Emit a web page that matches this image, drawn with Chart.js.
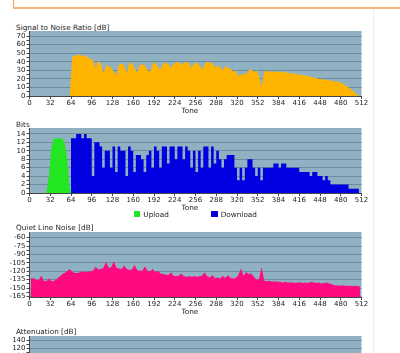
<!DOCTYPE html>
<html lang="en">
<head>
  <meta charset="UTF-8" />
  <title>ADSL Line Statistics</title>
  <script src="https://cdn.jsdelivr.net/npm/chart.js@4.4.1/dist/chart.umd.min.js"></script>
  <style>
    html, body { margin: 0; padding: 0; background: #fff; }
    body { position: relative; width: 400px; height: 353px; overflow: hidden;
           font-family: "DejaVu Sans", Verdana, sans-serif; color: #222; }
    .topbox { position: absolute; left: 13px; top: -1px; width: 420px; height: 7px;
              border-left: 1px solid #f0a050; border-top: 1px solid #f0a050;
              border-bottom: 2px solid #f4b47a; background: #fffdf6; }
    .rule { position: absolute; left: 373px; top: 10px; width: 1px; height: 343px; background: #ececec; }
    .lbl { position: absolute; font-size: 7.3px; line-height: 9px; white-space: nowrap; }
    .box { position: absolute; width: 6.5px; height: 6.5px; }
    canvas { position: absolute; left: 0; }
  </style>
</head>
<body>
  <div class="topbox"></div>
  <div class="rule"></div>

  <div class="lbl" style="left:16px; top:22.5px">Signal to Noise Ratio [dB]</div>
  <canvas id="snrChart" width="400" height="100" style="top:20px"></canvas>
  <div class="lbl" style="left:181.5px; top:105.8px">Tone</div>

  <div class="lbl" style="left:16px; top:119.5px">Bits</div>
  <canvas id="bitsChart" width="400" height="100" style="top:117px"></canvas>
  <div class="lbl" style="left:181.5px; top:203px">Tone</div>
  <div class="box" style="left:133.5px; top:210.5px; background:#22e622"></div>
  <div class="lbl" style="left:143.3px; top:209.5px">Upload</div>
  <div class="box" style="left:211px; top:210.5px; background:#0000e0"></div>
  <div class="lbl" style="left:220.7px; top:209.5px">Download</div>

  <div class="lbl" style="left:16px; top:223px">Quiet Line Noise [dB]</div>
  <canvas id="noiseChart" width="400" height="100" style="top:221px"></canvas>
  <div class="lbl" style="left:181.5px; top:306.5px">Tone</div>

  <div class="lbl" style="left:16px; top:327px">Attenuation [dB]</div>
  <canvas id="attenChart" width="400" height="100" style="top:325px"></canvas>

  <script>
    // tone axis: 512 tones, values read in bins of 4 tones
    const toneTicks = [0, 32, 64, 96, 128, 160, 192, 224, 256, 288, 320, 352, 384, 416, 448, 480, 512];
    const binWidth = 4;

    const snrTicks = [0, 10, 20, 30, 40, 50, 60, 70];
    const bitsTicks = [0, 2, 4, 6, 8, 10, 12, 14];
    const noiseTicks = [-60, -75, -90, -105, -120, -135, -150, -165];
    const attenTicks = [0, 20, 40, 60, 80, 100, 120, 140];

    // Signal to Noise Ratio [dB], one value per 4 tones
    const snr = [
      0, 0, 0, 0, 0, 0, 0, 0, 0, 0, 0, 0, 0, 0, 0, 0,
      46, 47, 48, 48, 47, 47, 45, 43, 42, 33, 41, 38, 26, 36, 35, 33,
      28, 24, 37, 38, 36, 27, 38, 39, 33, 27, 36, 37, 36, 30, 28, 38,
      39, 34, 31, 38, 39, 37, 33, 38, 39, 40, 36, 39, 40, 38, 33, 38,
      39, 36, 31, 37, 40, 39, 38, 33, 36, 34, 30, 35, 33, 32, 28, 30,
      23, 25, 26, 25, 30, 31, 28, 30, 24, 10, 29, 29, 29, 28, 29, 28,
      28, 29, 27, 28, 26, 27, 25, 26, 24, 25, 23, 24, 22, 22, 21, 20,
      20, 19, 19, 18, 18, 17, 17, 16, 15, 13, 11, 9, 6, 4, 1, 0
    ];

    // Bits per tone
    const bitsUpload = [
      0, 0, 0, 0, 0, 0, 0, 4, 11, 13, 13, 13, 13, 12, 8, 1,
      0, 0, 0, 0, 0, 0, 0, 0, 0, 0, 0, 0, 0, 0, 0, 0,
      0, 0, 0, 0, 0, 0, 0, 0, 0, 0, 0, 0, 0, 0, 0, 0,
      0, 0, 0, 0, 0, 0, 0, 0, 0, 0, 0, 0, 0, 0, 0, 0,
      0, 0, 0, 0, 0, 0, 0, 0, 0, 0, 0, 0, 0, 0, 0, 0,
      0, 0, 0, 0, 0, 0, 0, 0, 0, 0, 0, 0, 0, 0, 0, 0,
      0, 0, 0, 0, 0, 0, 0, 0, 0, 0, 0, 0, 0, 0, 0, 0,
      0, 0, 0, 0, 0, 0, 0, 0, 0, 0, 0, 0, 0, 0, 0, 0
    ];
    const bitsDownload = [
      0, 0, 0, 0, 0, 0, 0, 0, 0, 0, 0, 0, 0, 0, 0, 0,
      13, 13, 14, 14, 13, 14, 13, 13, 4, 12, 12, 11, 6, 10, 10, 6,
      11, 5, 11, 10, 10, 4, 11, 10, 5, 9, 9, 8, 5, 9, 10, 6,
      11, 10, 6, 11, 11, 7, 11, 11, 8, 11, 11, 8, 11, 10, 6, 10,
      5, 10, 6, 11, 11, 6, 11, 7, 10, 8, 6, 8, 9, 9, 9, 6,
      3, 6, 3, 6, 8, 8, 6, 4, 6, 3, 6, 6, 6, 6, 7, 7,
      6, 7, 7, 6, 6, 6, 6, 6, 5, 5, 5, 5, 4, 5, 5, 4,
      4, 3, 4, 3, 2, 2, 2, 2, 2, 2, 2, 1, 1, 1, 1, 0
    ];

    // Quiet Line Noise [dB]
    const quietNoise = [
      -133, -132, -135, -136, -128, -137, -138, -133, -138, -137, -134, -130, -126, -123, -120, -116,
      -121, -123, -123, -122, -120, -122, -121, -120, -119, -112, -117, -116, -114, -103, -114, -113,
      -102, -114, -115, -116, -110, -116, -118, -117, -109, -118, -119, -119, -111, -119, -120, -116,
      -122, -119, -124, -125, -126, -127, -122, -128, -129, -128, -124, -129, -130, -129, -130, -129,
      -130, -129, -128, -122, -129, -131, -127, -132, -131, -133, -128, -132, -127, -132, -133, -132,
      -127, -115, -128, -122, -125, -124, -130, -135, -134, -112, -137, -138, -137, -139, -138, -139,
      -139, -140, -139, -140, -140, -140, -141, -140, -140, -141, -140, -141, -139, -140, -141, -140,
      -142, -141, -140, -142, -143, -145, -145, -146, -145, -146, -146, -146, -147, -146, -147, -147
    ];

    // Attenuation [dB] - below the visible part of the page
    const attenuation = [];

    const axisCol = '#464646';
    const gridCol = '#6c8c9c';
    const plotCol = '#8fb1c1';
    const txtCol = '#222';
    const tickFont = { family: 'DejaVu Sans', size: 7 };

    const toPoints = vals => vals.map((v, i) => ({ x: i * binWidth + binWidth / 2, y: v }));

    // fill the plot area with the blue-grey background
    const plotBg = {
      id: 'plotBg',
      beforeDraw(chart) {
        const { ctx, chartArea: a } = chart;
        ctx.save();
        ctx.fillStyle = plotCol;
        ctx.fillRect(a.left, a.top, a.right - a.left, a.bottom - a.top);
        ctx.restore();
      }
    };

    function makeChart(id, datasets, yMin, yMax, majors, xHeight) {
      return new Chart(document.getElementById(id), {
        type: 'line',
        data: { datasets },
        plugins: [plotBg],
        options: {
          responsive: false,
          animation: false,
          events: [],
          layout: { padding: { left: 0, right: 38.5, top: 11, bottom: 0 } },
          plugins: { legend: { display: false }, tooltip: { enabled: false } },
          elements: { point: { radius: 0 }, line: { borderWidth: 0, tension: 0 } },
          scales: {
            x: {
              type: 'linear', min: 0, max: 512,
              afterBuildTicks: s => { s.ticks = toneTicks.map(v => ({ value: v })); },
              afterFit: s => { s.height = xHeight; },
              grid: { drawOnChartArea: false, tickColor: axisCol, tickLength: 3 },
              border: { display: true, color: axisCol, z: 1 },
              ticks: { color: txtCol, font: tickFont, padding: 0, autoSkip: false, maxRotation: 0 }
            },
            y: {
              min: yMin, max: yMax,
              afterBuildTicks: s => {
                const t = [];
                majors.forEach((v, i) => {
                  t.push({ value: v, main: true });
                  if (i < majors.length - 1) t.push({ value: (v + majors[i + 1]) / 2 });
                });
                s.ticks = t;
              },
              afterFit: s => { s.width = 29.5; },
              grid: {
                color: c => (c.tick && c.tick.main ? gridCol : 'transparent'),
                tickColor: axisCol, tickLength: 3
              },
              border: { display: true, color: axisCol, z: 1 },
              ticks: {
                color: txtCol, font: tickFont, padding: 1, autoSkip: false,
                callback: (v, i, ticks) => (ticks[i].main ? String(v) : '')
              }
            }
          }
        }
      });
    }

    makeChart('snrChart', [{
      data: toPoints(snr), backgroundColor: '#ffb400', borderColor: 'transparent',
      fill: 'origin'
    }], 0, 76, snrTicks, 24);

    makeChart('bitsChart', [{
      label: 'Download', data: toPoints(bitsDownload), backgroundColor: '#0000e0',
      borderColor: 'transparent', fill: 'origin', stepped: 'middle'
    }, {
      label: 'Upload', data: toPoints(bitsUpload), backgroundColor: '#22e622',
      borderColor: 'transparent', fill: 'origin'
    }], 0, 15.4, bitsTicks, 24);

    makeChart('noiseChart', [{
      data: toPoints(quietNoise), backgroundColor: '#ff0a80', borderColor: 'transparent',
      fill: 'start'
    }], -166, -50, noiseTicks, 24);

    makeChart('attenChart', [{
      data: toPoints(attenuation), backgroundColor: '#c03030', borderColor: 'transparent',
      fill: 'origin'
    }], 0, 152, attenTicks, 31);
  </script>
</body>
</html>
